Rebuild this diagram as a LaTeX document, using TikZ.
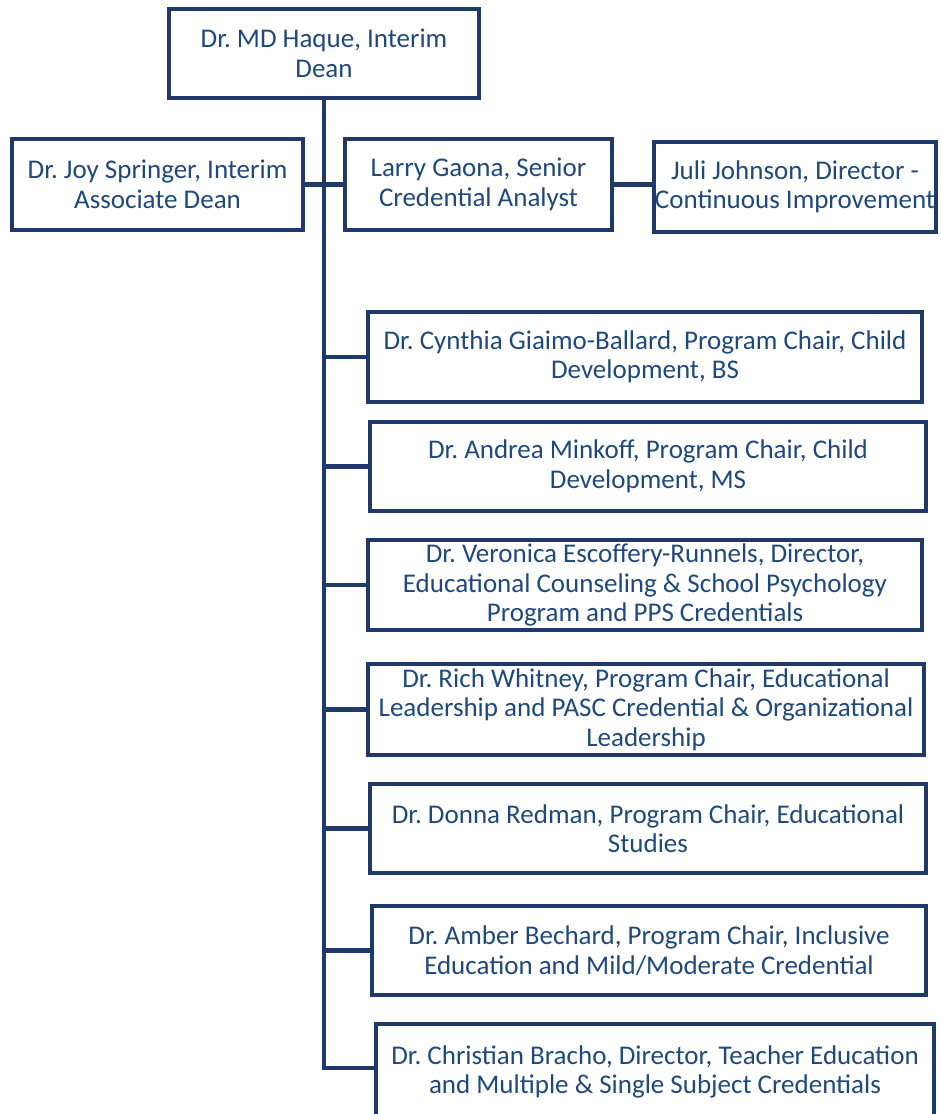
\documentclass[tikz,border=0pt]{standalone}
\usepackage{fontspec}
\setmainfont{Carlito}
\usepackage{xcolor}
\definecolor{navy}{RGB}{31,58,104}
\definecolor{navytext}{RGB}{31,73,125}
\usepackage{tikz}
\usetikzlibrary{positioning,calc}
\frenchspacing

\begin{document}
\begin{tikzpicture}[x=1pt,y=-1pt,
  box/.style={draw=navy,line width=4pt,fill=white,text=navytext,align=center,
    inner sep=0pt,font=\fontsize{27}{29.5}\selectfont},
  link/.style={draw=navy,line width=4.5pt}]
  \useasboundingbox (0,0) rectangle (940,1114);

  % top row
  \node[box,minimum width=310,minimum height=89] (dean) at (324,53.5) {Dr. MD Haque, Interim\\Dean};
  \node[box,minimum width=291,minimum height=91] (spring) at (157.5,184.5) {Dr. Joy Springer, Interim\\Associate Dean};
  \node[box,minimum width=267,minimum height=91] (gaona) at (478.5,184.5) {Larry Gaona, Senior\\Credential Analyst};
  \node[box,minimum width=282,minimum height=90] (johnson) at (795,187) {Juli Johnson, Director -\\Continuous Improvement};

  % program chairs and directors
  \node[box,minimum width=554,minimum height=90] (cynthia) at (645,357) {Dr. Cynthia Giaimo-Ballard, Program Chair, Child\\Development, BS};
  \node[box,minimum width=556,minimum height=89] (andrea) at (648,466.5) {Dr. Andrea Minkoff, Program Chair, Child\\Development, MS};
  \node[box,minimum width=554,minimum height=90] (veronica) at (645,585) {Dr. Veronica Escoffery-Runnels, Director,\\Educational Counseling \& School Psychology\\Program and PPS Credentials};
  \node[box,minimum width=556,minimum height=91] (rich) at (646,709.5) {Dr. Rich Whitney, Program Chair, Educational\\Leadership and PASC Credential \& Organizational\\Leadership};
  \node[box,minimum width=556,minimum height=89] (donna) at (648,828.5) {Dr. Donna Redman, Program Chair, Educational\\Studies};
  \node[box,minimum width=554,minimum height=89] (amber) at (649,950.5) {Dr. Amber Bechard, Program Chair, Inclusive\\Education and Mild/Moderate Credential};
  \node[box,minimum width=558,minimum height=97] (christian) at (655,1072) {Dr. Christian Bracho, Director, Teacher Education\\and Multiple \& Single Subject Credentials};

  % connectors
  \draw[link] (spring.east) -- (gaona.west);
  \draw[link] (gaona.east) -- (gaona.east -| johnson.west);
  \draw[link] (dean.south) -- ($(dean.south |- christian.west)+(0,-4)$) -- ($(christian.west)+(0,-4)$);
  \foreach \n in {cynthia,andrea,veronica,rich,donna,amber}
    \draw[link] (dean.south |- \n.west) -- (\n.west);
\end{tikzpicture}
\end{document}
